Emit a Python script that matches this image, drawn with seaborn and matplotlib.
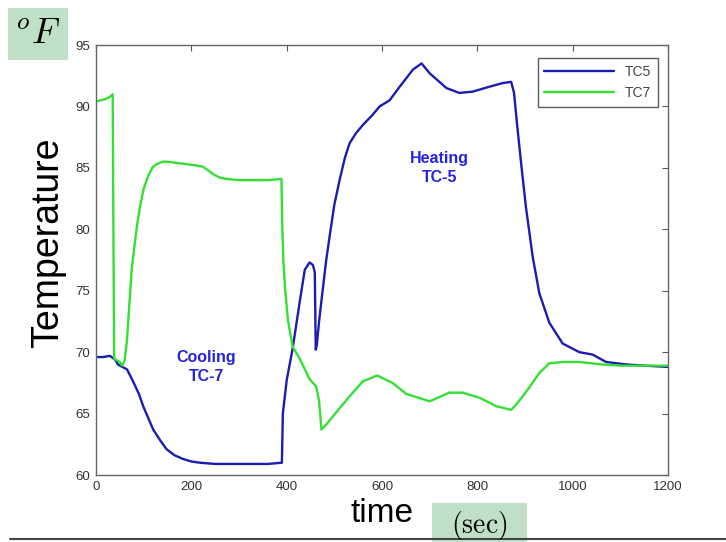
import numpy as np
import pandas as pd
import matplotlib
matplotlib.use("Agg")
import matplotlib.pyplot as plt
import seaborn as sns
from matplotlib.patches import Rectangle
from matplotlib.lines import Line2D

# ---- data ----
tc7_t = [0, 10, 20, 30, 35, 36.5, 38, 45, 50, 55, 60, 65, 75, 85, 92, 100, 109, 118, 127,
         140, 150, 170, 190, 210, 224, 235, 245, 260, 274, 300, 330, 360, 389, 391, 393,
         397, 403, 413, 427, 448, 462, 468, 473, 483, 504, 532, 559, 590, 622, 651, 700,
         741, 769, 804, 840, 871, 881, 903, 930, 951, 980, 1014, 1060, 1100, 1150, 1200]
tc7_v = [90.4, 90.5, 90.6, 90.8, 91.0, 80.0, 69.5, 69.3, 69.2, 68.9, 69.3, 71.0, 76.8, 80.0,
         81.8, 83.3, 84.3, 85.0, 85.3, 85.5, 85.5, 85.4, 85.3, 85.2, 85.1, 84.8, 84.5, 84.2,
         84.1, 84.0, 84.0, 84.0, 84.1, 80.0, 77.5, 75.0, 72.5, 70.4, 69.5, 67.8, 67.2, 66.0,
         63.7, 64.1, 65.1, 66.4, 67.6, 68.1, 67.5, 66.6, 66.0, 66.7, 66.7, 66.3, 65.6, 65.3,
         65.7, 66.8, 68.3, 69.1, 69.2, 69.2, 69.0, 68.9, 68.9, 68.9]

tc5_t = [0, 15, 29, 40, 46, 55, 65, 78, 90, 99, 110, 120, 135, 148, 165, 183, 200, 218, 250,
         274, 320, 360, 390, 392, 400, 413, 427, 438, 448, 455, 459, 461, 463, 468, 473, 483,
         490, 500, 511, 522, 532, 545, 560, 580, 595, 616, 637, 665, 683, 700, 735, 762, 790,
         825, 853, 871, 877, 884, 894, 902, 916, 930, 951, 979, 1014, 1042, 1070, 1112, 1150, 1200]
tc5_v = [69.6, 69.6, 69.7, 69.4, 69.0, 68.8, 68.6, 67.6, 66.6, 65.6, 64.6, 63.7, 62.8, 62.1,
         61.6, 61.3, 61.1, 61.0, 60.9, 60.9, 60.9, 60.9, 61.0, 65.0, 67.7, 70.4, 74.0, 76.7,
         77.3, 77.1, 76.5, 70.2, 70.5, 72.5, 74.2, 77.5, 79.4, 82.0, 84.0, 85.8, 87.0, 87.8,
         88.5, 89.3, 90.0, 90.5, 91.6, 93.0, 93.5, 92.7, 91.5, 91.1, 91.2, 91.6, 91.9, 92.0,
         91.1, 88.3, 84.6, 81.8, 77.8, 74.8, 72.4, 70.7, 70.0, 69.8, 69.2, 69.0, 68.9, 68.8]

series = ["TC5", "TC7"]
colors = ["#1c1cb0", "#33e033"]
x_ticks = [0, 200, 400, 600, 800, 1000, 1200]
y_ticks = [60, 65, 70, 75, 80, 85, 90, 95]

df = pd.concat([
    pd.DataFrame({"time": tc5_t, "temp": tc5_v, "sensor": "TC5"}),
    pd.DataFrame({"time": tc7_t, "temp": tc7_v, "sensor": "TC7"}),
], ignore_index=True)

sns.set_style("white")
plt.rcParams["font.family"] = ["Liberation Sans", "DejaVu Sans"]
plt.rcParams["mathtext.fontset"] = "cm"

fig = plt.figure(figsize=(7.26, 5.42), dpi=100)
ax = fig.add_axes([96 / 726, 1 - 475 / 542, (668 - 96) / 726, (475 - 45) / 542])

sns.lineplot(data=df, x="time", y="temp", hue="sensor", hue_order=series,
             palette=dict(zip(series, colors)), estimator=None, sort=False,
             linewidth=1.7, ax=ax)

ax.set_xlim(0, 1200)
ax.set_ylim(60, 95)
ax.set_xticks(x_ticks)
ax.set_yticks(y_ticks)
ax.tick_params(direction="in", length=4, width=0.8, top=True, right=True,
               labelsize=9.5, labelcolor="#333333", colors="#555555", pad=4)
for sp in ax.spines.values():
    sp.set_color("#666666")
    sp.set_linewidth(1.0)

ax.set_xlabel("time", fontsize=24, labelpad=4, color="black")
ax.set_ylabel("Temperature", fontsize=27, color="black")
ax.yaxis.set_label_coords(-0.052, 0.54)

leg = ax.legend(loc="upper right", fontsize=10, frameon=True, fancybox=False,
                edgecolor="#333333", handlelength=5, borderpad=0.5,
                labelspacing=0.5, bbox_to_anchor=(0.995, 0.985))
for t in leg.get_texts():
    t.set_color("#444444")
leg.get_frame().set_linewidth(1.0)

ax.text(232, 68.8, "Cooling\nTC-7", color="#2424e0", fontsize=11.5, fontweight="bold",
        ha="center", va="center", linespacing=1.3)
ax.text(720, 85.0, "Heating\nTC-5", color="#2424e0", fontsize=11.5, fontweight="bold",
        ha="center", va="center", linespacing=1.3)

# green label boxes
green = "#bfe0c6"
fig.patches.append(Rectangle((8 / 726, 1 - 60 / 542), 60 / 726, 52 / 542,
                             transform=fig.transFigure, facecolor=green,
                             edgecolor="none", zorder=0))
fig.text(38 / 726, 1 - 34 / 542, r"$^{o}F$", fontsize=26, ha="center", va="center",
         color="black")

fig.patches.append(Rectangle((432 / 726, 0), 95 / 726, 39 / 542,
                             transform=fig.transFigure, facecolor=green,
                             edgecolor="none", zorder=0))
fig.text(479 / 726, 17 / 542, r"$(\mathrm{sec})$", fontsize=20, ha="center", va="center",
         color="black")

fig.lines.append(Line2D([10 / 726, 1.0], [3 / 542, 3 / 542], transform=fig.transFigure,
                        color="#444444", linewidth=1.5))

fig.savefig("out.png", dpi=100)
